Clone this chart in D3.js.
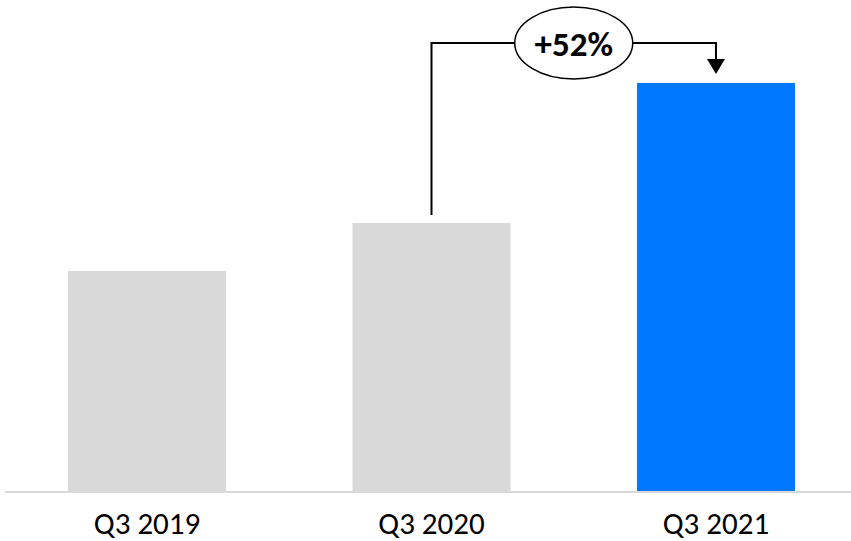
<!DOCTYPE html>
<html>
<head>
<meta charset="utf-8">
<script src="https://cdn.jsdelivr.net/npm/d3@7"></script>
<style>
  body { margin: 0; background: #fff; }
  svg { display: block; }
  .lbl { font-family: Carlito, Calibri, Lato, "Open Sans", sans-serif; }
</style>
</head>
<body>
<svg id="chart"></svg>
<script>
var width = 851;
var height = 541;

// data (relative units)
var quarters = ["Q3 2019", "Q3 2020", "Q3 2021"];
var values = [220, 268, 408];
var colors = ["#d9d9d9", "#d9d9d9", "#0077ff"];
var growthLabel = "+52%";

var svg = d3.select("#chart")
	.attr("width", width)
	.attr("height", height);

var x = d3.scaleBand()
	.domain(quarters)
	.range([12, 851])
	.paddingInner(0.4446)
	.paddingOuter(0.197);

var y = d3.scaleLinear()
	.domain([0, 408])
	.range([491, 83]);

// bars
svg.selectAll("rect.bar")
	.data(quarters)
	.enter()
	.append("rect")
	.attr("class", "bar")
	.attr("x", d => x(d))
	.attr("width", x.bandwidth())
	.attr("y", (d, i) => y(values[i]))
	.attr("height", (d, i) => y(0) - y(values[i]))
	.attr("fill", (d, i) => colors[i]);

// baseline axis
var xAxis = d3.axisBottom(x).tickSize(0).tickPadding(0);
var axisG = svg.append("g")
	.attr("transform", "translate(0," + y(0) + ")")
	.call(xAxis);
axisG.select(".domain").remove();
axisG.append("line")
	.attr("x1", 5)
	.attr("x2", 851)
	.attr("y1", 1)
	.attr("y2", 1)
	.attr("stroke", "#d9d9d9")
	.attr("stroke-width", 2);
axisG.selectAll(".tick text")
	.attr("class", "lbl")
	.attr("y", 43)
	.attr("dy", 0)
	.attr("fill", "#000")
	.style("font-size", "31px");

// growth annotation: bracket from Q3 2020 to Q3 2021
var x0 = x(quarters[1]) + x.bandwidth() / 2;
var x1 = x(quarters[2]) + x.bandwidth() / 2;
var topY = 43;
var cx = (x0 + x1) / 2;
var tipY = y(values[2]) - 9;

var connector = d3.line();
svg.append("path")
	.attr("d", connector([[x0, y(values[1]) - 8], [x0, topY], [x1, topY], [x1, tipY - 10]]))
	.attr("fill", "none")
	.attr("stroke", "#000")
	.attr("stroke-width", 2);

// arrow head
svg.append("path")
	.attr("d", connector([[x1 - 9, tipY - 15], [x1 + 9, tipY - 15], [x1, tipY]]) + "Z")
	.attr("fill", "#000");

svg.append("ellipse")
	.attr("cx", cx)
	.attr("cy", topY)
	.attr("rx", 59)
	.attr("ry", 36)
	.attr("fill", "#fff")
	.attr("stroke", "#000")
	.attr("stroke-width", 1.5);

svg.append("text")
	.attr("class", "lbl")
	.attr("x", cx)
	.attr("y", topY + 13)
	.attr("text-anchor", "middle")
	.style("font-size", "35px")
	.style("font-weight", "bold")
	.text(growthLabel);
</script>
</body>
</html>
